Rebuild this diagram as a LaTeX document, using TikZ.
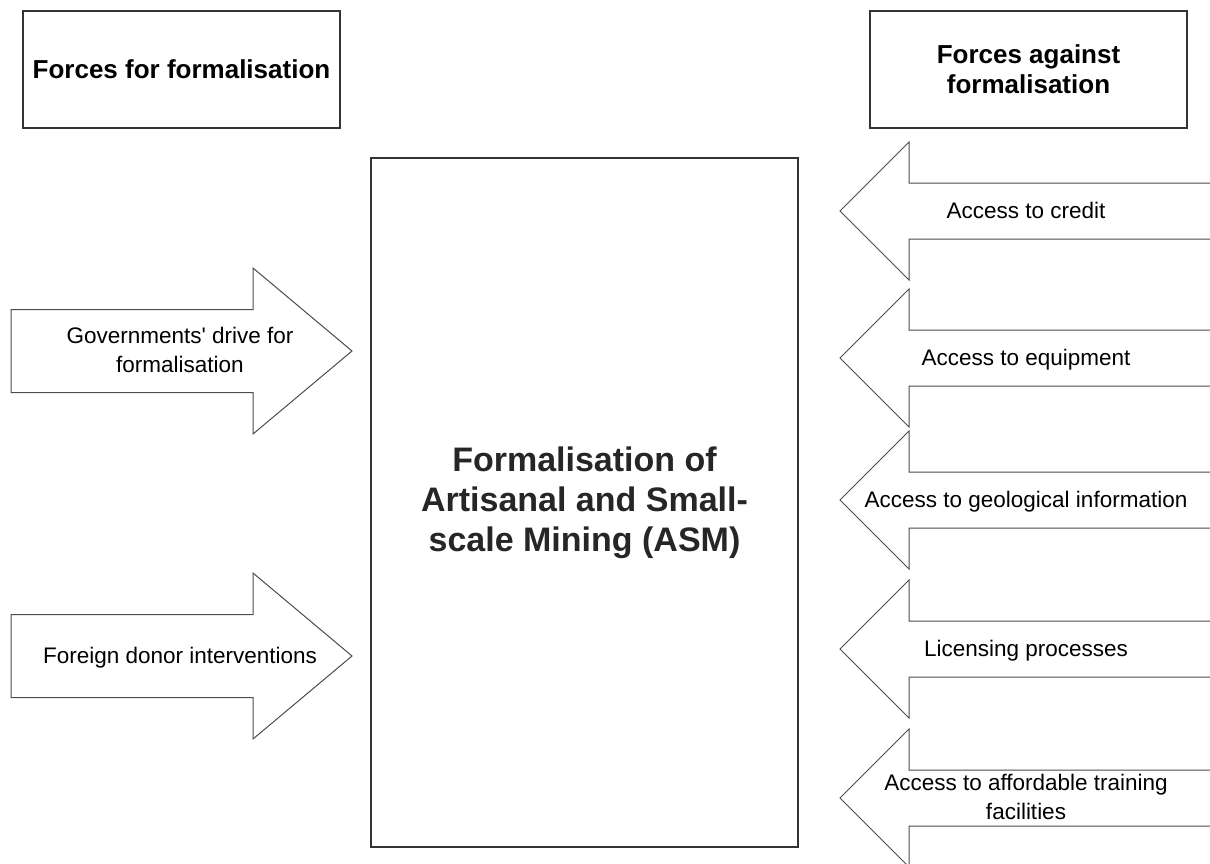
\documentclass[tikz,border=0pt]{standalone}
\usepackage{fontspec}
\setmainfont{Liberation Sans}[Ligatures=TeXOff]
\begin{document}
\begin{tikzpicture}[x=1pt,y=-1pt,
  box/.style={draw=black!80, line width=1.6pt, fill=white, inner sep=0pt, align=center},
  forcearrow/.style={draw=black!70, line width=1pt, fill=white, line join=miter},
  forcetext/.style={align=center, inner sep=0pt, font=\fontsize{22.5}{28.5}\selectfont},
  heading/.style={font=\bfseries\fontsize{26}{30}\selectfont},
  title/.style={font=\bfseries\fontsize{34}{40}\selectfont, text=black!85},
]
\useasboundingbox (0,0) rectangle (1210,863);
\clip (0,0) rectangle (1210,863);

% column headings
\node[box, heading, minimum width=317pt, minimum height=117pt] (forhead) at (181.5,69.5)
  {Forces for formalisation};
\node[box, heading, minimum width=317pt, minimum height=117pt] (againsthead) at (1028.5,69.5)
  {Forces against\\formalisation};

% the subject in the middle
\node[box, title, minimum width=427pt, minimum height=689pt] (asm) at (584.5,502.5)
  {Formalisation of\\Artisanal and Small-\\scale Mining (ASM)};

% driving forces: block arrows pointing right
\foreach \ty in {351,656}{
  \draw[forcearrow] (11,\ty-41.5) -- (253,\ty-41.5) -- (253,\ty-83) -- (352,\ty)
    -- (253,\ty+83) -- (253,\ty+41.5) -- (11,\ty+41.5) -- cycle;
}
\node[forcetext] (gov) at (180,350) {Governments' drive for\\formalisation};
\node[forcetext, anchor=base] (donor) at (180,663) {Foreign donor interventions};

% restraining forces: block arrows pointing left, running off the right edge
\foreach \ty in {211,358,500,649,798}{
  \draw[forcearrow] (840,\ty) -- (909,\ty-69) -- (909,\ty-28) -- (1220,\ty-28)
    -- (1220,\ty+28) -- (909,\ty+28) -- (909,\ty+69) -- cycle;
}
\node[forcetext, anchor=base] (credit) at (1026,218.5) {Access to credit};
\node[forcetext, anchor=base] (equip) at (1026,365.5) {Access to equipment};
\node[forcetext, anchor=base] (geo) at (1026,507) {Access to geological information};
\node[forcetext, anchor=base] (licence) at (1026,656) {Licensing processes};
\node[forcetext] (training) at (1026,797) {Access to affordable training\\facilities};
\end{tikzpicture}
\end{document}
